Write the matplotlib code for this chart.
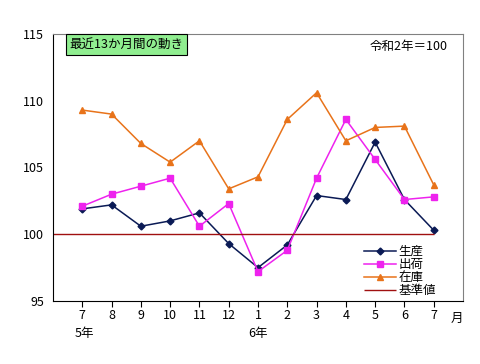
import numpy as np
import matplotlib.pyplot as plt

plt.rcParams['font.family'] = ['Noto Sans CJK JP', 'DejaVu Sans']

# 月 (令和5年7月 ～ 令和6年7月)
months = ['7', '8', '9', '10', '11', '12', '1', '2', '3', '4', '5', '6', '7']
seisan = [101.9, 102.2, 100.6, 101.0, 101.6, 99.3, 97.5, 99.2, 102.9, 102.6, 106.9, 102.6, 100.3]
shukka = [102.1, 103.0, 103.6, 104.2, 100.6, 102.3, 97.2, 98.8, 104.2, 108.6, 105.6, 102.6, 102.8]
zaiko = [109.3, 109.0, 106.8, 105.4, 107.0, 103.4, 104.3, 108.6, 110.6, 107.0, 108.0, 108.1, 103.7]
kijun = 100

x = np.arange(len(months))

fig = plt.figure(figsize=(4.8, 3.64), dpi=100)
ax = fig.add_axes([0.1104, 0.1731, 0.8542, 0.7335])

ax.plot(x, seisan, color='#0a1a55', marker='D', markersize=3.5, linewidth=1.1, label='生産')
ax.plot(x, shukka, color='#ee22ee', marker='s', markersize=4, linewidth=1.1, label='出荷')
ax.plot(x, zaiko, color='#e8731a', marker='^', markersize=5, linewidth=1.1, label='在庫')
ax.hlines(kijun, -1, x[-1], color='#a01010', linewidth=1, label='基準値')

ax.set_xlim(-1, 13)
ax.set_ylim(95, 115)
ax.set_yticks([95, 100, 105, 110, 115])
ax.set_xticks(x)
ax.set_xticklabels(months)
ax.tick_params(axis='y', length=0, pad=6.5, labelsize=9)
ax.tick_params(axis='x', length=4, direction='out', pad=2, labelsize=9)

for s in ['top', 'right']:
    ax.spines[s].set_color('#808080')
for s in ['left', 'bottom']:
    ax.spines[s].set_color('black')

ax.legend(loc='lower right', bbox_to_anchor=(0.955, -0.018), frameon=False,
          fontsize=9, handlelength=2.6, labelspacing=0.0, borderpad=0.2, handletextpad=0.15)

ax.text(0.04, 0.985, '最近13か月間の動き', transform=ax.transAxes, fontsize=9,
        va='top', ha='left',
        bbox=dict(boxstyle='square,pad=0.3', facecolor='#90ee90', edgecolor='black', linewidth=0.8))
ax.text(0.773, 0.955, '令和2年＝100', transform=ax.transAxes, fontsize=9, va='center', ha='left')

fig.text(457 / 480, 1 - 318 / 364, '月', fontsize=9, ha='center', va='center')
fig.text(84 / 480, 1 - 333 / 364, '5年', fontsize=9, ha='center', va='center')
fig.text(258 / 480, 1 - 333 / 364, '6年', fontsize=9, ha='center', va='center')

fig.savefig('out.png', dpi=100)
